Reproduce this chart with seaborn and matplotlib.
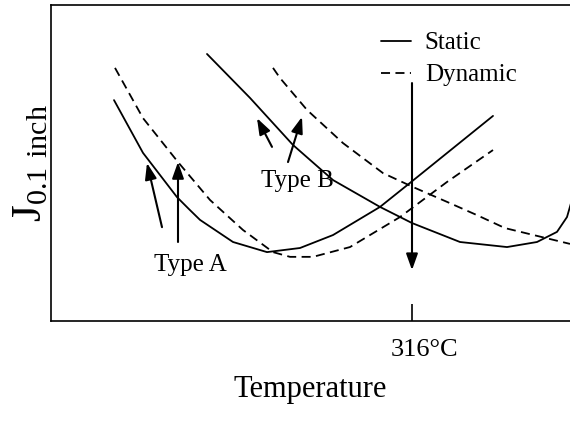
import matplotlib
matplotlib.use("Agg")
import matplotlib.pyplot as plt
import matplotlib.transforms as mtransforms
import seaborn as sns
import pandas as pd

sns.set_theme(style="white")
plt.rcParams["font.family"] = ["Liberation Serif", "DejaVu Serif"]
plt.rcParams["mathtext.fontset"] = "custom"
plt.rcParams["mathtext.rm"] = "Liberation Serif"
plt.rcParams["text.color"] = "black"
plt.rcParams["axes.labelcolor"] = "black"
plt.rcParams["xtick.color"] = "black"

# Fracture toughness J(0.1 inch) versus temperature (arbitrary J units)
a_static_temp = [167, 181.5, 198.5, 204.5, 210, 226.5, 243.5, 260, 276.5, 300, 315, 356.5]
a_static_j = [69.9, 53.2, 39.2, 35.4, 32.0, 25.0, 21.8, 23.1, 27.2, 36.1, 43.7, 64.9]

a_dynamic_temp = [167.5, 181.5, 199, 215, 231.5, 246.5, 255, 266.5, 285, 310, 333.5, 356.5]
a_dynamic_j = [80.1, 64.2, 50.3, 38.3, 28.8, 21.8, 20.3, 20.3, 23.4, 32.9, 44.0, 54.1]

b_static_temp = [213.5, 235, 256.5, 276.5, 300, 316, 340, 363.5, 378.5, 388.5, 393.5, 395.5]
b_static_j = [84.5, 70.6, 55.7, 44.6, 36.1, 31.0, 25.0, 23.4, 25.0, 28.2, 32.9, 37.3]

b_dynamic_temp = [246.5, 250, 263.5, 281.5, 301.5, 316.5, 333.5, 348.5, 362.5, 395]
b_dynamic_j = [80.1, 76.9, 66.8, 56.3, 46.8, 42.4, 37.7, 33.5, 29.4, 24.4]

curves = [
    ("Type A static", "Static", a_static_temp, a_static_j),
    ("Type A dynamic", "Dynamic", a_dynamic_temp, a_dynamic_j),
    ("Type B static", "Static", b_static_temp, b_static_j),
    ("Type B dynamic", "Dynamic", b_dynamic_temp, b_dynamic_j),
]
rows = []
for name, mode, temps, js in curves:
    for t, j in zip(temps, js):
        rows.append({"Temperature": t, "J": j, "curve": name, "mode": mode})
df = pd.DataFrame(rows)

transition_temp = 316

fig = plt.figure(figsize=(5.7, 4.24), dpi=100)
ax = fig.add_axes([51 / 570, 103 / 424, 519 / 570, 316 / 424])

sns.lineplot(
    data=df, x="Temperature", y="J", units="curve", style="mode",
    style_order=["Static", "Dynamic"], estimator=None, sort=False,
    color="black", linewidth=1.3,
    dashes={"Static": "", "Dynamic": (5, 3)}, ax=ax,
)

ax.set_xlim(135.5, 395)
ax.set_ylim(0, 100)

for side in ["left", "top", "bottom"]:
    ax.spines[side].set_color("black")
    ax.spines[side].set_linewidth(1.2)
ax.spines["right"].set_visible(False)

ax.set_yticks([])
ax.set_xticks([transition_temp])
ax.set_xticklabels([f"{transition_temp}°C"], fontsize=19)
ax.tick_params(axis="x", direction="in", length=12, width=1.2, pad=13,
               bottom=True, colors="black")
shift = mtransforms.ScaledTranslation(13 / 100, 0, fig.dpi_scale_trans)
for lbl in ax.get_xticklabels():
    lbl.set_transform(lbl.get_transform() + shift)

ax.set_xlabel("Temperature", fontsize=22, labelpad=10)
ax.set_ylabel(r"$\mathrm{J}_{\mathrm{0.1\ inch}}$", fontsize=31, labelpad=1)

arrow = dict(arrowstyle="-|>,head_length=0.7,head_width=0.25", color="black",
             lw=1.5, shrinkA=0, shrinkB=0, mutation_scale=14)

# Type A arrows
ax.annotate("", xy=(183.5, 50.0), xytext=(191, 29.7), arrowprops=arrow)
ax.annotate("", xy=(199, 50.3), xytext=(199, 25.0), arrowprops=arrow)
ax.text(205, 17.7, "Type A", fontsize=18, ha="center", va="center")

# Type B arrows
ax.annotate("", xy=(238.5, 64.2), xytext=(246, 55.1), arrowprops=arrow)
ax.annotate("", xy=(261, 64.6), xytext=(254, 50.3), arrowprops=arrow)
ax.text(258.5, 44.3, "Type B", fontsize=18, ha="center", va="center")

# Shift of transition at 316 °C
ax.annotate("", xy=(transition_temp, 16.1), xytext=(transition_temp, 75.3),
            arrowprops=arrow)

handles, labels = ax.get_legend_handles_labels()
ax.legend(handles, labels, loc="upper left", bbox_to_anchor=(0.636, 0.915),
          frameon=False, fontsize=18, handlelength=1.2, handletextpad=0.55,
          labelspacing=0.38, borderpad=0, borderaxespad=0)

fig.savefig("out.png", dpi=100)
